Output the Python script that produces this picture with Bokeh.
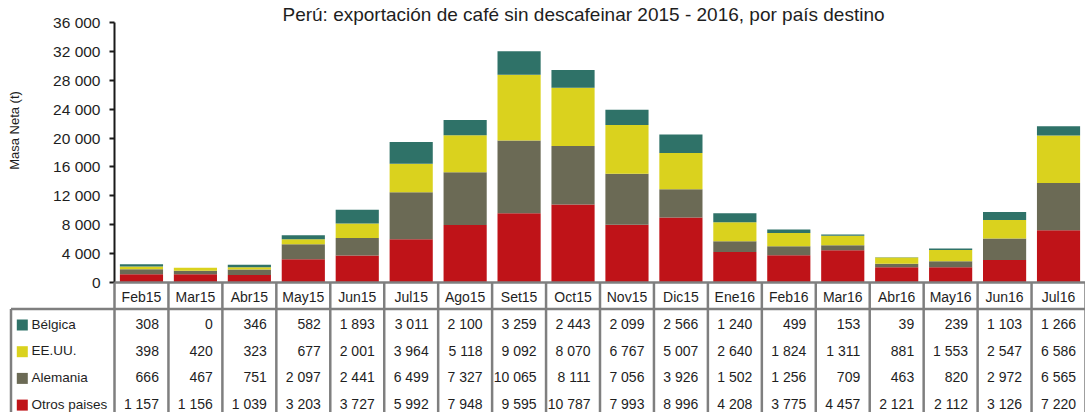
import math
from bokeh.plotting import figure
from bokeh.models import ColumnDataSource, Range1d, FixedTicker
from bokeh.core.properties import value
from bokeh.embed import file_html
from bokeh.resources import INLINE

# ---------------- data ----------------
MONTHS = ["Feb15", "Mar15", "Abr15", "May15", "Jun15", "Jul15", "Ago15", "Set15", "Oct15",
          "Nov15", "Dic15", "Ene16", "Feb16", "Mar16", "Abr16", "May16", "Jun16", "Jul16"]
BELGICA = [308, 0, 346, 582, 1893, 3011, 2100, 3259, 2443, 2099, 2566, 1240, 499, 153, 39, 239, 1103, 1266]
EEUU = [398, 420, 323, 677, 2001, 3964, 5118, 9092, 8070, 6767, 5007, 2640, 1824, 1311, 881, 1553, 2547, 6586]
ALEMANIA = [666, 467, 751, 2097, 2441, 6499, 7327, 10065, 8111, 7056, 3926, 1502, 1256, 709, 463, 820, 2972, 6565]
OTROS = [1157, 1156, 1039, 3203, 3727, 5992, 7948, 9595, 10787, 7993, 8996, 4208, 3775, 4457, 2121, 2112, 3126, 7220]

SERIES_NAMES = ["Bélgica", "EE.UU.", "Alemania", "Otros paises"]   # table order (top -> bottom)
Y_TICKS = [0, 4000, 8000, 12000, 16000, 20000, 24000, 28000, 32000, 36000]
Y_TICK_LABELS = ["0", "4 000", "8 000", "12 000", "16 000", "20 000", "24 000", "28 000", "32 000", "36 000"]
TITLE = "Perú: exportación de café sin descafeinar 2015 - 2016, por país destino"
Y_LABEL = "Masa Neta (t)"

# ---------------- style ----------------
COLORS = {"Bélgica": "#2F7268", "EE.UU.": "#DAD21E", "Alemania": "#6B6A55", "Otros paises": "#BF1318"}
FONT = "Liberation Sans"
TXT = "#1e1e1e"
GRID = "#7f7f7f"

W, H = 1085, 412
LEFT = 114
N = len(MONTHS)
PX_X = (W - LEFT) / N
V_PER_PX = 36000 / 260.0


def X(px):  # picture x -> data x
    return (px - LEFT) / PX_X


def Y(py):  # picture y -> data y
    return (282 - py) * V_PER_PX


p = figure(width=W, height=H, x_range=Range1d(0, N), y_range=Range1d(Y(H), Y(0)),
           output_backend="svg", toolbar_location=None, x_axis_location=None,
           min_border_left=LEFT, min_border_right=0, min_border_top=0, min_border_bottom=0)
p.outline_line_color = None
p.xgrid.visible = False
p.ygrid.visible = False

# bars
src = ColumnDataSource(dict(x=[i + 0.5 for i in range(N)], otros=OTROS, alemania=ALEMANIA,
                            eeuu=EEUU, belgica=BELGICA))
p.vbar_stack(["otros", "alemania", "eeuu", "belgica"], x="x", width=0.8, source=src,
             color=[COLORS["Otros paises"], COLORS["Alemania"], COLORS["EE.UU."], COLORS["Bélgica"]],
             line_width=0)

# y axis
ax = p.yaxis[0]
ax.ticker = FixedTicker(ticks=Y_TICKS)
ax.bounds = (0, 36000)
ax.major_label_overrides = {t: l for t, l in zip(Y_TICKS, Y_TICK_LABELS)}
ax.axis_line_color = "#1a1a1a"
ax.axis_line_width = 2
ax.major_tick_line_color = "#1a1a1a"
ax.major_tick_line_width = 2
ax.major_tick_in = 0
ax.major_tick_out = 5
ax.minor_tick_line_color = None
ax.major_label_standoff = 9
ax.major_label_text_font = FONT
ax.major_label_text_font_size = "15.5px"
ax.major_label_text_color = TXT

# y label and title
p.text(x=[X(14)], y=[Y(130)], text=[Y_LABEL], angle=math.pi / 2, text_align="center",
       text_baseline="middle", text_font=value(FONT), text_font_size="13px",
       text_color=TXT, level="overlay")
p.text(x=[X(583)], y=[Y(14)], text=[TITLE], text_align="center", text_baseline="alphabetic",
       text_font=value(FONT), text_font_size="19px", text_color=TXT, level="overlay")

# ---------------- data table ----------------
TOP, HDR_BOT, BOT = 282, 308.5, H + 5
LEG_LEFT = 10.5
# grid lines
p.segment(x0=list(range(N + 1)), y0=[Y(TOP)] * (N + 1), x1=list(range(N + 1)), y1=[Y(BOT)] * (N + 1),
          line_color=GRID, line_width=2.5, level="overlay")
p.segment(x0=[0, X(LEG_LEFT), X(LEG_LEFT)], y0=[Y(TOP), Y(HDR_BOT), Y(HDR_BOT)],
          x1=[N, N, X(LEG_LEFT)], y1=[Y(TOP), Y(HDR_BOT), Y(BOT)],
          line_color=GRID, line_width=2.5, level="overlay")

# header
p.text(x=[i + 0.5 for i in range(N)], y=[Y(296)] * N, text=MONTHS, text_align="center",
       text_baseline="middle", text_font=value(FONT), text_font_size="14px", text_color=TXT,
       level="overlay")

ROW_Y = [323.5, 350.2, 376.9, 403.6]
rows = {"Bélgica": BELGICA, "EE.UU.": EEUU, "Alemania": ALEMANIA, "Otros paises": OTROS}
for k, name in enumerate(SERIES_NAMES):
    ry = ROW_Y[k]
    p.rect(x=[X(21.8)], y=[Y(ry + 1)], width=11, height=11, width_units="screen",
           height_units="screen", fill_color=COLORS[name], line_color=None, level="overlay")
    p.text(x=[X(31)], y=[Y(ry)], text=[name], text_align="left", text_baseline="middle",
           text_font=value(FONT), text_font_size="13.5px", text_color=TXT, level="overlay")
    vals = rows[name]
    labels = [f"{v:,}".replace(",", " ") for v in vals]
    p.text(x=[i + 1 - 9.5 / PX_X for i in range(N)], y=[Y(ry)] * N, text=labels,
           text_align="right", text_baseline="middle", text_font=value(FONT),
           text_font_size="14px", text_color=TXT, level="overlay")

open("out.html", "w").write(file_html(p, INLINE))
